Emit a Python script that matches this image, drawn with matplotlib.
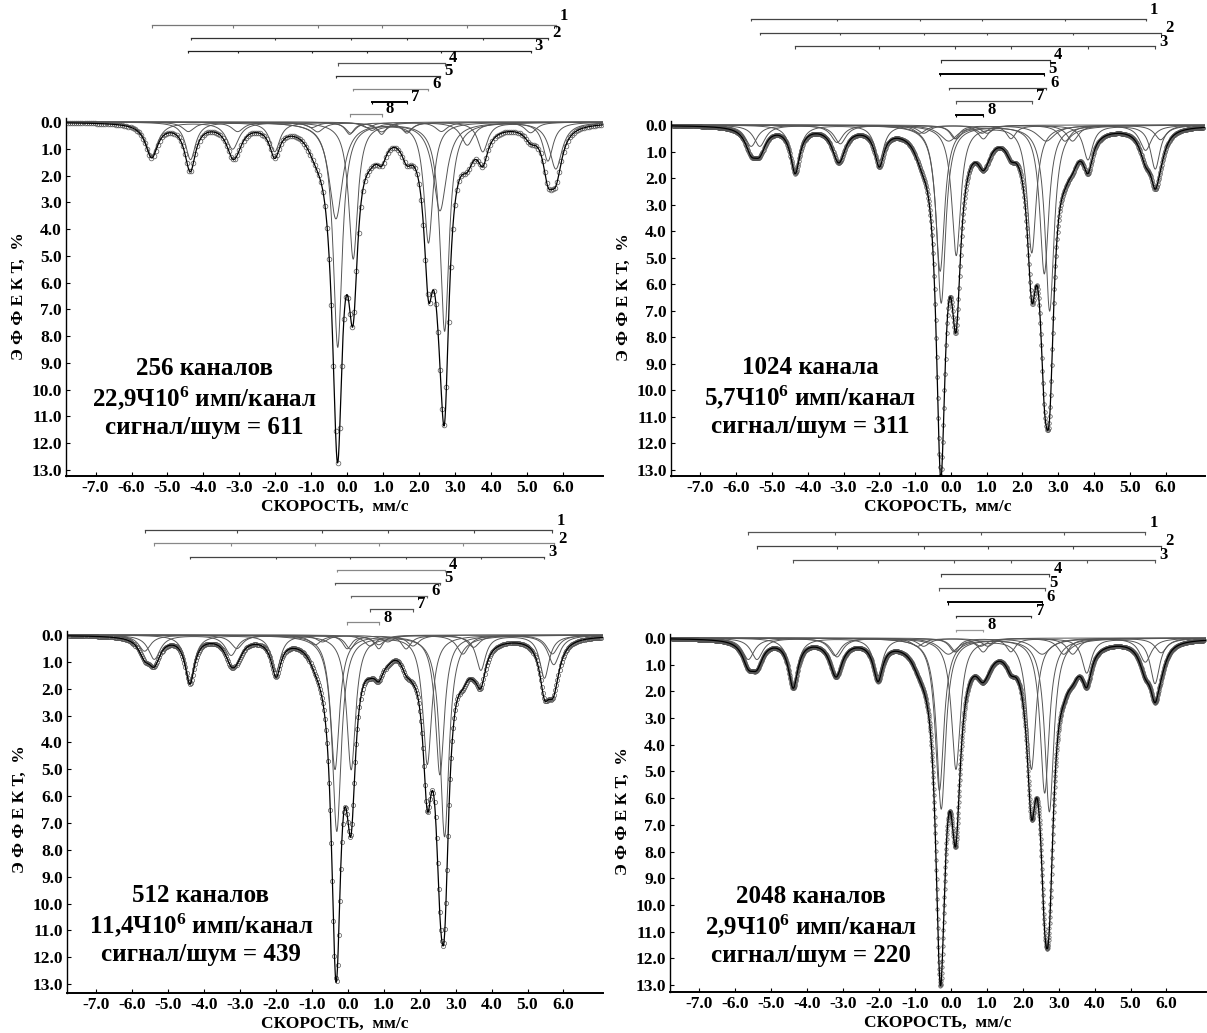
import numpy as np
import matplotlib.pyplot as plt
from matplotlib.transforms import blended_transform_factory

plt.rcParams['font.family'] = ['Liberation Serif', 'DejaVu Serif']
plt.rcParams['font.weight'] = 'bold'
plt.rcParams['axes.unicode_minus'] = False
plt.rcParams['mathtext.fontset'] = 'custom'
plt.rcParams['mathtext.bf'] = 'Liberation Serif:bold'
plt.rcParams['mathtext.rm'] = 'Liberation Serif:bold'
plt.rcParams['mathtext.default'] = 'bf'

# ---- data (velocities in mm/s, depths in %) ----
CHANNELS = [256, 1024, 512, 2048]
COUNTS = ['22,9', '5,7', '11,4', '2,9']
SNR = [611, 311, 439, 220]

# line positions of the three sextets (1-3) and five doublets (4-8), per panel
P1_SEXTETS = [[-5.44, -3.19, -0.83, 0.95, 3.33, 5.79],
              [-4.36, -2.02, 0.09, 1.65, 3.76, 5.57],
              [-4.42, -3.05, -0.99, 0.55, 2.61, 5.09]]
P1_SEXTET_DEPTHS = [[1.25, 1.0, 0.35, 0.35, 0.85, 1.75],
                    [1.4, 1.1, 0.4, 0.4, 1.1, 1.45],
                    [0.35, 0.35, 0.2, 0.2, 0.35, 0.4]]
P1_DOUBLETS = [[-0.27, 2.70], [-0.32, 2.57], [0.16, 2.25], [0.68, 1.65], [0.06, 0.95]]
P1_DOUBLET_DEPTHS = [[8.4, 7.8], [3.6, 3.3], [5.1, 4.5], [0.3, 0.35], [0.45, 0.45]]
P1_WIDTHS = [0.42, 0.34, 0.4, 0.3, 0.45, 0.3, 0.4, 0.3]

P2_SEXTETS = [[-5.58, -3.18, -0.87, 0.87, 3.19, 5.44],
              [-5.34, -3.09, -0.76, 1.01, 3.40, 5.86],
              [-4.35, -2.00, 0.11, 1.68, 3.83, 5.71]]
P2_SEXTET_DEPTHS = [[0.8, 0.65, 0.3, 0.3, 0.6, 0.95],
                    [0.8, 0.7, 0.3, 0.3, 0.6, 0.55],
                    [1.7, 1.35, 0.5, 0.5, 1.3, 1.65]]
P2_DOUBLETS = [[-0.27, 2.76], [-0.30, 2.61], [-0.06, 2.66], [0.15, 2.26], [0.15, 0.91]]
P2_DOUBLET_DEPTHS = [[6.7, 7.0], [5.5, 5.6], [0.6, 0.6], [4.9, 4.8], [0.5, 0.5]]
P2_WIDTHS = [0.4, 0.4, 0.32, 0.3, 0.3, 0.6, 0.3, 0.35]

P3_SEXTETS = [[-5.66, -3.09, -0.71, 1.11, 3.50, 5.69],
              [-5.39, -3.25, -0.91, 0.86, 3.20, 5.73],
              [-4.40, -2.00, 0.06, 1.62, 3.70, 5.47]]
P3_SEXTET_DEPTHS = [[0.6, 0.5, 0.25, 0.25, 0.45, 0.7],
                    [0.9, 0.75, 0.35, 0.35, 0.7, 1.1],
                    [1.7, 1.35, 0.5, 0.5, 1.3, 1.6]]
P3_DOUBLETS = [[-0.31, 2.69], [-0.36, 2.56], [0.09, 2.21], [0.62, 1.81], [-0.02, 0.86]]
P3_DOUBLET_DEPTHS = [[7.3, 7.5], [5.0, 5.2], [5.0, 4.8], [0.4, 0.4], [0.5, 0.5]]
P3_WIDTHS = [0.4, 0.4, 0.32, 0.3, 0.3, 0.3, 0.4, 0.3]

P4_SEXTETS = [[-5.64, -3.23, -0.93, 0.83, 3.14, 5.41],
              [-5.40, -3.17, -0.76, 1.03, 3.39, 5.85],
              [-4.39, -2.03, 0.09, 1.67, 3.78, 5.68]]
P4_SEXTET_DEPTHS = [[0.8, 0.65, 0.3, 0.3, 0.6, 0.9],
                    [0.8, 0.7, 0.3, 0.3, 0.6, 0.55],
                    [1.75, 1.4, 0.5, 0.5, 1.3, 1.7]]
P4_DOUBLETS = [[-0.27, 2.74], [-0.32, 2.61], [-0.07, 2.54], [0.14, 2.24], [0.14, 0.90]]
P4_DOUBLET_DEPTHS = [[6.4, 6.5], [5.7, 5.8], [0.6, 0.6], [4.9, 4.9], [0.5, 0.5]]
P4_WIDTHS = [0.4, 0.4, 0.32, 0.3, 0.3, 0.6, 0.3, 0.35]

X_TICKS = [-7.0, -6.0, -5.0, -4.0, -3.0, -2.0, -1.0, 0.0, 1.0, 2.0, 3.0, 4.0, 5.0, 6.0]
Y_TICKS = [0.0, 1.0, 2.0, 3.0, 4.0, 5.0, 6.0, 7.0, 8.0, 9.0, 10.0, 11.0, 12.0, 13.0]

# ---- layout (pixels of the 1207x1033 picture) ----
W, H = 1207, 1033
# left, right, y of 0.0, px per %, bottom, bar top, bar step, text x, text y
LAYOUT = [(66, 603, 122, 26.77, 476, -3.62, 0.476, -3.97, 10.3),
          (671, 1205, 125, 26.54, 476, -3.99, 0.516, -3.92, 10.25),
          (67, 603, 635, 26.85, 993, -3.90, 0.49, -4.09, 10.8),
          (670, 1206, 638, 26.69, 992, -3.96, 0.523, -3.9, 10.8)]
BAR_COLORS = [['#777', '#333', '#222', '#555', '#333', '#888', '#000', '#888'],
              ['#444', '#444', '#444', '#333', '#000', '#444', '#555', '#000'],
              ['#444', '#888', '#444', '#888', '#555', '#666', '#555', '#888'],
              ['#555', '#444', '#555', '#444', '#555', '#000', '#333', '#999']]
MARKER_SIZE = [3.4, 2.6, 3.0, 2.4]
XLIM = (-7.82, 7.1)
TOP = -4.5


def lorentz(v, pos, depth, fwhm):
    return depth / (1.0 + ((v - pos) / (fwhm / 2.0)) ** 2)


def draw_panel(fig, k, sextets, sext_depths, doublets, doub_depths, widths):
    left, right, zero_y, ppu, bottom, bar_top, bar_step, tx, ty = LAYOUT[k]
    top_px = zero_y + TOP * ppu
    ax = fig.add_axes([left / W, 1 - bottom / H, (right - left) / W, (bottom - top_px) / H])
    ax.set_facecolor('none')
    y_bottom = (bottom - zero_y) / ppu
    ax.set_xlim(*XLIM)
    ax.set_ylim(y_bottom, TOP)

    v_fine = np.linspace(XLIM[0], XLIM[1], 3000)
    v_chan = np.linspace(XLIM[0] + 0.05, XLIM[1] - 0.05, CHANNELS[k])
    positions = list(sextets) + list(doublets)
    depths = list(sext_depths) + list(doub_depths)

    total_fine = np.zeros_like(v_fine)
    total_chan = np.zeros_like(v_chan)
    for pos, dep, w in zip(positions, depths, widths):
        sub = sum(lorentz(v_fine, p, d, w) for p, d in zip(pos, dep))
        total_fine += sub
        total_chan += sum(lorentz(v_chan, p, d, w) for p, d in zip(pos, dep))
        ax.plot(v_fine, sub, color='#555', lw=0.7)

    ax.plot(v_chan, total_chan, ls='none', marker='o', ms=MARKER_SIZE[k], mfc='none',
            mec='#555', mew=0.5)
    ax.plot(v_fine, total_fine, color='black', lw=0.9)

    # stick diagram of the subspectra
    tick_len = 0.09
    for i, pos in enumerate(positions):
        y = bar_top + i * bar_step
        c = BAR_COLORS[k][i]
        lw = 1.4 if c == '#000' else 0.9
        ax.plot([min(pos), max(pos)], [y, y], color=c, lw=lw, clip_on=False)
        ax.vlines(pos, y, y + tick_len, color=c, lw=0.8, clip_on=False)
        dy = 6.5 if i == 0 else 3.5
        ax.annotate(str(i + 1), (max(pos), y), xytext=(6, dy), textcoords='offset points',
                    ha='center', va='center', fontsize=12, fontweight='bold')

    # axes styling
    for side in ('top', 'right'):
        ax.spines[side].set_visible(False)
    ax.spines['left'].set_bounds(y_bottom, -0.15)
    ax.spines['bottom'].set_linewidth(1.4)
    ax.spines['left'].set_linewidth(1.0)
    ax.set_xticks(X_TICKS)
    ax.set_xticklabels(['%.1f' % t for t in X_TICKS], fontsize=12.5, fontweight='bold')
    ax.set_yticks(Y_TICKS)
    ax.set_yticklabels(['%.1f' % t for t in Y_TICKS], fontsize=12.5, fontweight='bold')
    ax.tick_params(direction='in', length=3, width=0.8, pad=3)

    ax.set_xlabel('СКОРОСТЬ,  мм/с', fontsize=12.5, fontweight='bold', labelpad=2)
    ax.set_ylabel('Э Ф Ф Е К Т,  %', fontsize=12.5, fontweight='bold')
    ax.yaxis.set_label_coords(-39.0 / (right - left), 6.5,
                              transform=blended_transform_factory(ax.transAxes, ax.transData))

    label = '%d канал%s\n%sЧ10$^{6}$ имп/канал\nсигнал/шум = %d' % (
        CHANNELS[k], 'а' if CHANNELS[k] == 1024 else 'ов', COUNTS[k], SNR[k])
    ax.text(tx, ty, label, ha='center', va='center', fontsize=18, fontweight='bold',
            linespacing=1.2)
    return ax


fig = plt.figure(figsize=(W / 100, H / 100), dpi=100)
draw_panel(fig, 0, P1_SEXTETS, P1_SEXTET_DEPTHS, P1_DOUBLETS, P1_DOUBLET_DEPTHS, P1_WIDTHS)
draw_panel(fig, 1, P2_SEXTETS, P2_SEXTET_DEPTHS, P2_DOUBLETS, P2_DOUBLET_DEPTHS, P2_WIDTHS)
draw_panel(fig, 2, P3_SEXTETS, P3_SEXTET_DEPTHS, P3_DOUBLETS, P3_DOUBLET_DEPTHS, P3_WIDTHS)
draw_panel(fig, 3, P4_SEXTETS, P4_SEXTET_DEPTHS, P4_DOUBLETS, P4_DOUBLET_DEPTHS, P4_WIDTHS)
fig.savefig('out.png', dpi=100)
